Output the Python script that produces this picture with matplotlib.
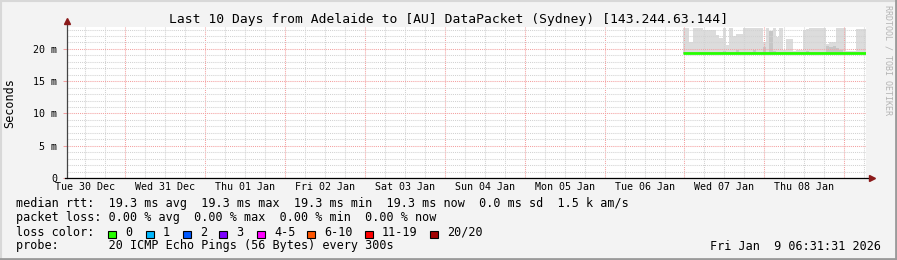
import matplotlib
matplotlib.use('Agg')

from matplotlib import pyplot as plt
from matplotlib.lines import Line2D
from matplotlib.patches import Rectangle
import matplotlib.dates as mdates
import pandas as pd

plt.rcParams['font.family'] = ['DejaVu Sans Mono']

W, H = 897, 260

# time range of the graph
t_start = pd.Timestamp('2025-12-30 06:31:31')
t_end = pd.Timestamp('2026-01-09 06:31:31')
data_start = pd.Timestamp('2026-01-06 23:30:00')

# hourly smoke (max rtt in ms) from the first sample on
smoke_max_ms = [
    23.3, 23.3, 21.0, 23.3, 23.2, 23.3, 23.0, 23.0, 23.0, 23.0,
    22.1, 21.7, 23.3, 20.6, 23.3, 22.0, 22.3, 22.3, 23.3, 23.3,
    23.3, 23.3, 23.3, 23.3, 21.1, 23.3, 20.3, 23.2, 21.8, 23.3,
    19.8, 21.5, 21.5, 19.7, 19.8, 19.8, 23.0, 23.1, 23.2, 23.2,
    23.2, 23.2, 23.2, 20.8, 21.0, 21.0, 23.2, 23.2, 23.2, 19.7,
    19.7, 19.7, 23.1, 23.1, 23.1,
]
# darker inner smoke layer
smoke_mid_ms = [
    19.6, 19.5, 19.5, 19.6, 19.5, 19.5, 19.6, 19.5, 19.5, 19.5,
    19.6, 19.5, 19.7, 19.5, 19.6, 19.5, 19.8, 19.5, 19.5, 19.6,
    19.5, 19.9, 19.6, 19.5, 20.3, 19.6, 22.8, 19.7, 19.5, 19.6,
    19.5, 19.6, 19.5, 19.5, 19.5, 19.6, 19.5, 19.7, 19.6, 19.5,
    19.6, 19.5, 19.6, 20.4, 20.3, 20.5, 20.2, 19.8, 19.6, 19.5,
    19.5, 19.5, 19.6, 19.5, 19.5,
]
median_ms = [
    19.3, 19.3, 19.3, 19.3, 19.3, 19.3, 19.3, 19.3, 19.3, 19.3,
    19.3, 19.3, 19.3, 19.3, 19.3, 19.3, 19.3, 19.3, 19.3, 19.3,
    19.3, 19.3, 19.3, 19.3, 19.3, 19.3, 19.3, 19.3, 19.3, 19.3,
    19.3, 19.3, 19.3, 19.3, 19.3, 19.3, 19.3, 19.3, 19.3, 19.3,
    19.3, 19.3, 19.3, 19.3, 19.3, 19.3, 19.3, 19.3, 19.3, 19.3,
    19.3, 19.3, 19.3, 19.3, 19.3,
]
min_rtt_ms = 19.2

y_ticks = [0, 5, 10, 15, 20]
y_labels = ['0', '5 m', '10 m', '15 m', '20 m']
day_labels = ['Tue 30 Dec', 'Wed 31 Dec', 'Thu 01 Jan', 'Fri 02 Jan', 'Sat 03 Jan',
              'Sun 04 Jan', 'Mon 05 Jan', 'Tue 06 Jan', 'Wed 07 Jan', 'Thu 08 Jan']

loss_labels = ['0', '1', '2', '3', '4-5', '6-10', '11-19', '20/20']
loss_colors = ['#26ff00', '#00b8ff', '#0059ff', '#7e00ff', '#ff00ff', '#ff5500', '#ff0000', '#a10000']

title = 'Last 10 Days from Adelaide to [AU] DataPacket (Sydney) [143.244.63.144]'
line_rtt = 'median rtt:  19.3 ms avg  19.3 ms max  19.3 ms min  19.3 ms now  0.0 ms sd  1.5 k am/s'
line_loss = 'packet loss: 0.00 % avg  0.00 % max  0.00 % min  0.00 % now'
line_probe = 'probe:       20 ICMP Echo Pings (56 Bytes) every 300s'
stamp = 'Fri Jan  9 06:31:31 2026'


def fx(x):
    return x / W


def fy(y):
    return 1 - y / H


fig = plt.figure(figsize=(W / 100, H / 100), dpi=100, facecolor='#f3f3f3')

# plot area
L, R, T, B = 67, 866, 27, 178
ax = fig.add_axes([fx(L), fy(B), (R - L) / W, (B - T) / H])
ax.set_facecolor('white')

n = len(smoke_max_ms)
edges = pd.date_range(data_start, periods=n + 1, freq='h')
ex = mdates.date2num(edges)

ax.fill_between(ex, min_rtt_ms, smoke_max_ms + [smoke_max_ms[-1]], step='post',
                color='#dcdcdc', lw=0, zorder=1)
ax.fill_between(ex, min_rtt_ms, smoke_mid_ms + [smoke_mid_ms[-1]], step='post',
                color='#c6c6c6', lw=0, zorder=1.1)
ax.plot(ex, median_ms + [median_ms[-1]], drawstyle='steps-post',
        color='#26ff00', lw=2.0, zorder=3, solid_capstyle='butt')

ax.set_xlim(mdates.date2num(t_start), mdates.date2num(t_end))
ax.set_ylim(0, 23.4)

# grid
ax.set_axisbelow(False)
midnights = pd.date_range('2025-12-31', '2026-01-09', freq='D')
six_h = pd.date_range('2025-12-30 12:00', '2026-01-09 06:00', freq='6h')
ax.set_xticks(mdates.date2num(midnights))
ax.set_xticks(mdates.date2num(six_h), minor=True)
ax.set_yticks(y_ticks)
ax.set_yticks([v for v in range(0, 24)], minor=True)
ax.grid(True, which='minor', color='#d2d2d2', lw=0.75, ls=(0, (1, 1)))
ax.grid(True, which='major', color='#f4a0a0', lw=0.75, ls=(0, (1, 1)))
ax.tick_params(axis='x', which='both', length=0, labelbottom=False)
ax.tick_params(axis='y', which='major', length=3, width=0.75, color='#f4a0a0',
               labelsize=7.2, pad=4, labelcolor='#000000')
ax.tick_params(axis='y', which='minor', length=0)
ax.set_yticklabels(y_labels)

for s in ax.spines.values():
    s.set_visible(False)

# day labels at noon
noons = pd.date_range('2025-12-30 12:00', periods=len(day_labels), freq='D')
for d, lab in zip(noons, day_labels):
    ax.text(mdates.date2num(d), -0.06, lab, transform=ax.get_xaxis_transform(),
            ha='center', va='center', fontsize=7.2, color='#000000')

# axis lines with arrows
fig.add_artist(Line2D([fx(L), fx(L)], [fy(B), fy(23)], color='#444444', lw=0.9))
fig.add_artist(Line2D([fx(L - 2), fx(871)], [fy(B), fy(B)], color='#000000', lw=0.9))
fig.add_artist(Line2D([fx(L)], [fy(21)], marker='^', markersize=5, color='#8b1a1a', lw=0))
fig.add_artist(Line2D([fx(872)], [fy(B)], marker='>', markersize=5, color='#8b1a1a', lw=0))

# texts
fig.text(0.5, fy(19), title, ha='center', va='center', fontsize=9.4)
fig.text(fx(10), fy(103), 'Seconds', rotation=90, ha='center', va='center', fontsize=8.5)
fig.text(fx(888), fy(60), 'RRDTOOL / TOBI OETIKER', rotation=270, ha='center', va='center',
         fontsize=6, color='#b4b4b4')

fig.text(fx(16), fy(204), line_rtt, ha='left', va='center', fontsize=8.5)
fig.text(fx(16), fy(218), line_loss, ha='left', va='center', fontsize=8.5)
fig.text(fx(16), fy(232), 'loss color:', ha='left', va='center', fontsize=8.5)
fig.text(fx(16), fy(246), line_probe, ha='left', va='center', fontsize=8.5)
fig.text(fx(881), fy(246), stamp, ha='right', va='center', fontsize=8.5)

sq_x = [108, 146, 183, 219, 257, 307, 365, 430]
for x, c, lab in zip(sq_x, loss_colors, loss_labels):
    fig.add_artist(Rectangle((fx(x), fy(238)), 8 / W, 7 / H, facecolor=c,
                             edgecolor='#000000', lw=0.8))
    fig.text(fx(x + 17), fy(232), lab, ha='left', va='center', fontsize=8.5)

# frame shading
fig.add_artist(Line2D([0, 1], [fy(0.5), fy(0.5)], color='#d8d8d8', lw=1.5))
fig.add_artist(Line2D([fx(0.5), fx(0.5)], [0, 1], color='#d8d8d8', lw=1.5))
fig.add_artist(Line2D([0, 1], [fy(259), fy(259)], color='#9a9a9a', lw=2))
fig.add_artist(Line2D([fx(896), fx(896)], [0, 1], color='#9a9a9a', lw=2))

fig.savefig('out.png', dpi=100, facecolor=fig.get_facecolor())
plt.close(fig)
